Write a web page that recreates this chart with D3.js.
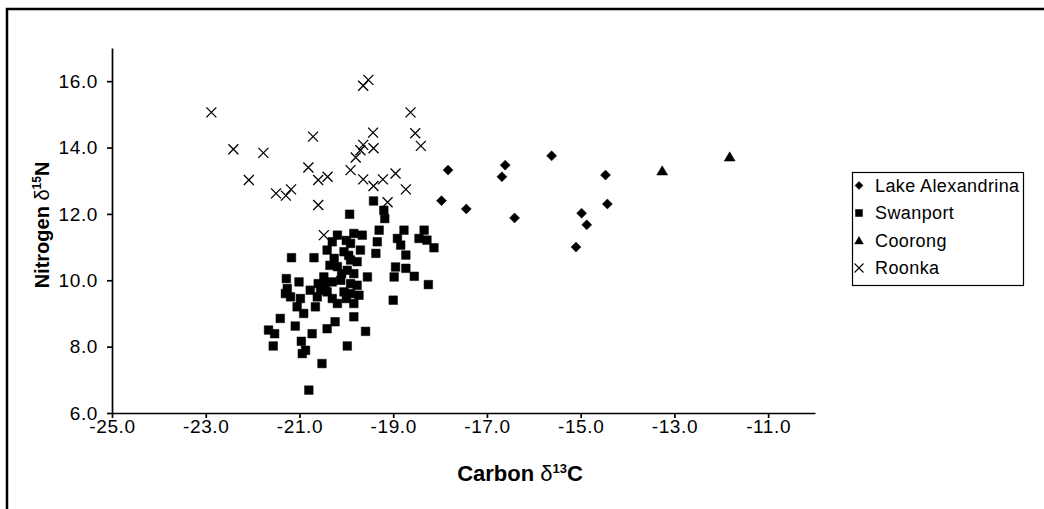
<!DOCTYPE html>
<html lang="en">
<head>
<meta charset="UTF-8">
<title>Carbon vs Nitrogen isotope values</title>
<script src="https://d3js.org/d3.v7.min.js"></script>
<style>
    body { margin: 0; background: #fff; }
    svg { display: block; font-family: "Liberation Sans", Arial, sans-serif; }
    .axis path, .axis line { stroke: #000; stroke-width: 1.7; }
    .axis text { font-size: 19px; fill: #000; letter-spacing: 0.6px; }
    .legend text { font-size: 18px; fill: #000; letter-spacing: 0.4px; }
</style>
</head>
<body>
<svg id="chart" width="1044" height="509"></svg>
<script>
    // tick values
    const xTicks = [-25, -23, -21, -19, -17, -15, -13, -11];
    const yTicks = [6, 8, 10, 12, 14, 16];

    // series, [carbon d13C, nitrogen d15N]
    const lakeAlexandrina = [
        [-17.83, 13.32], [-16.61, 13.47], [-16.68, 13.12], [-15.62, 13.75], [-14.47, 13.17],
        [-17.97, 12.40], [-17.44, 12.15], [-16.41, 11.88], [-14.43, 12.30], [-14.98, 12.02],
        [-14.87, 11.67], [-15.10, 11.00]
    ];
    const swanport = [
        [-19.42, 12.39], [-19.93, 11.99], [-19.20, 12.11], [-19.18, 11.86], [-19.30, 11.51], [-19.34, 11.16], [-19.37, 10.81],
        [-18.77, 11.51], [-18.91, 11.26], [-18.84, 11.06], [-18.73, 10.76], [-18.34, 11.51], [-18.45, 11.26], [-18.28, 11.21],
        [-18.13, 10.98], [-18.95, 10.40], [-18.73, 10.36], [-18.98, 10.10], [-18.55, 10.12], [-18.25, 9.87], [-19.00, 9.40],
        [-20.19, 11.36], [-19.84, 11.41], [-19.66, 11.36], [-20.30, 11.16], [-19.91, 11.11], [-20.41, 10.91], [-20.05, 10.86],
        [-19.70, 10.91], [-20.26, 10.66], [-19.91, 10.61], [-19.77, 10.56], [-20.19, 10.41], [-19.98, 10.30], [-19.84, 10.20],
        [-20.48, 10.10], [-20.30, 9.95], [-20.12, 10.00], [-19.91, 9.90], [-19.77, 9.85], [-20.55, 9.70], [-20.41, 9.65],
        [-20.05, 9.65], [-19.91, 9.60], [-19.73, 9.55], [-20.19, 9.30], [-19.84, 9.30], [-19.55, 10.10], [-19.84, 8.90],
        [-20.24, 8.75], [-20.41, 8.54], [-19.59, 8.46], [-19.98, 8.02], [-20.52, 7.49], [-20.80, 6.69],
        [-21.17, 10.68], [-20.69, 10.68], [-21.28, 10.05], [-21.01, 9.95], [-21.26, 9.75], [-21.19, 9.50], [-20.98, 9.45],
        [-20.77, 9.70], [-20.62, 9.50], [-20.66, 9.20], [-21.05, 9.20], [-20.91, 9.00], [-21.41, 8.85], [-21.09, 8.62],
        [-21.66, 8.50], [-21.53, 8.39], [-20.73, 8.39], [-20.96, 8.16], [-21.56, 8.02], [-20.94, 7.79], [-20.87, 7.89],
        [-20.00, 11.20], [-20.35, 10.45], [-20.10, 10.20], [-19.95, 10.75], [-20.45, 9.85], [-20.60, 9.90], [-20.30, 9.45],
        [-21.30, 9.60], [-20.00, 9.45]
    ];
    const coorong = [
        [-13.26, 13.30], [-11.82, 13.72]
    ];
    const roonka = [
        [-22.88, 15.06], [-19.64, 15.86], [-19.53, 16.04], [-18.63, 15.06], [-22.41, 13.95], [-21.77, 13.84],
        [-20.71, 14.33], [-19.43, 14.45], [-18.53, 14.43], [-18.41, 14.05], [-22.08, 13.02], [-21.50, 12.62],
        [-21.29, 12.55], [-21.18, 12.74], [-20.81, 13.40], [-20.60, 13.02], [-20.40, 13.12], [-20.60, 12.27],
        [-19.91, 13.32], [-19.80, 13.70], [-19.70, 13.92], [-19.64, 14.08], [-19.42, 13.98], [-19.64, 13.04],
        [-19.42, 12.84], [-19.22, 13.04], [-18.95, 13.22], [-18.73, 12.74], [-19.12, 12.35], [-20.48, 11.36]
    ];
    const seriesNames = ["Lake Alexandrina", "Swanport", "Coorong", "Roonka"];

    const svg = d3.select("#chart");

    // page frame (only top and left edges are inside the picture)
    svg.append("path")
        .attr("d", "M7,509V9H1044")
        .attr("fill", "none")
        .attr("stroke", "#000")
        .attr("stroke-width", 2.5);

    const x = d3.scaleLinear().domain([-25, -10]).range([112, 815]);
    const y = d3.scaleLinear().domain([6, 17]).range([413, 48]);
    const fmt = d => d.toFixed(1);

    svg.append("g")
        .attr("class", "axis")
        .attr("transform", "translate(0,413)")
        .call(d3.axisBottom(x).tickValues(xTicks).tickFormat(fmt).tickSize(5).tickSizeOuter(0).tickPadding(2));

    svg.append("g")
        .attr("class", "axis")
        .attr("transform", "translate(112,0)")
        .call(d3.axisLeft(y).tickValues(yTicks).tickFormat(fmt).tickSize(5).tickSizeOuter(0).tickPadding(9));

    // marker shapes, centred on 0,0
    const shapes = {
        diamond: r => `M0,${-r}L${r},0L0,${r}L${-r},0Z`,
        square: r => `M${-r},${-r}H${r}V${r}H${-r}Z`,
        triangle: r => `M0,${-r}L${r * 1.1},${r * 0.85}H${-r * 1.1}Z`,
        cross: r => `M${-r},${-r}L${r},${r}M${r},${-r}L${-r},${r}`
    };

    function drawSeries(data, shape, size) {
        const isCross = shape === "cross";
        svg.append("g").selectAll("path")
            .data(data)
            .join("path")
            .attr("transform", d => `translate(${x(d[0])},${y(d[1])})`)
            .attr("d", shapes[shape](size))
            .attr("fill", isCross ? "none" : "#000")
            .attr("stroke", "#000")
            .attr("stroke-width", isCross ? 1.3 : 0.5);
    }

    drawSeries(roonka, "cross", 5);
    drawSeries(swanport, "square", 4.3);
    drawSeries(lakeAlexandrina, "diamond", 5);
    drawSeries(coorong, "triangle", 5);

    // axis titles
    const xTitle = svg.append("text")
        .attr("x", 520)
        .attr("y", 481)
        .attr("text-anchor", "middle")
        .attr("font-size", 22)
        .attr("font-weight", "bold");
    xTitle.append("tspan").text("Carbon ");
    xTitle.append("tspan").attr("font-weight", "normal").text("δ");
    xTitle.append("tspan").attr("font-size", 13).attr("dy", -8).text("13");
    xTitle.append("tspan").attr("dy", 8).text("C");

    const yTitle = svg.append("text")
        .attr("transform", "translate(49,225) rotate(-90)")
        .attr("text-anchor", "middle")
        .attr("font-size", 20)
        .attr("font-weight", "bold");
    yTitle.append("tspan").text("Nitrogen ");
    yTitle.append("tspan").attr("font-weight", "normal").text("δ");
    yTitle.append("tspan").attr("font-size", 12).attr("dy", -8).text("15");
    yTitle.append("tspan").attr("dy", 8).text("N");

    // legend
    const legend = svg.append("g").attr("class", "legend");
    legend.append("rect")
        .attr("x", 852.5).attr("y", 172.5)
        .attr("width", 171).attr("height", 113)
        .attr("fill", "#fff")
        .attr("stroke", "#000")
        .attr("stroke-width", 1.2);

    const legendShapes = [["diamond", 4], ["square", 3.5], ["triangle", 4], ["cross", 4.5]];
    const rowY = d3.scalePoint().domain(seriesNames).range([185.5, 268]);

    seriesNames.forEach((name, i) => {
        const [shape, r] = legendShapes[i];
        legend.append("path")
            .attr("transform", `translate(859,${rowY(name)})`)
            .attr("d", shapes[shape](r))
            .attr("fill", shape === "cross" ? "none" : "#000")
            .attr("stroke", "#000")
            .attr("stroke-width", shape === "cross" ? 1.1 : 0.5);
        legend.append("text")
            .attr("x", 875)
            .attr("y", rowY(name))
            .attr("dy", "0.35em")
            .text(name);
    });
</script>
</body>
</html>
